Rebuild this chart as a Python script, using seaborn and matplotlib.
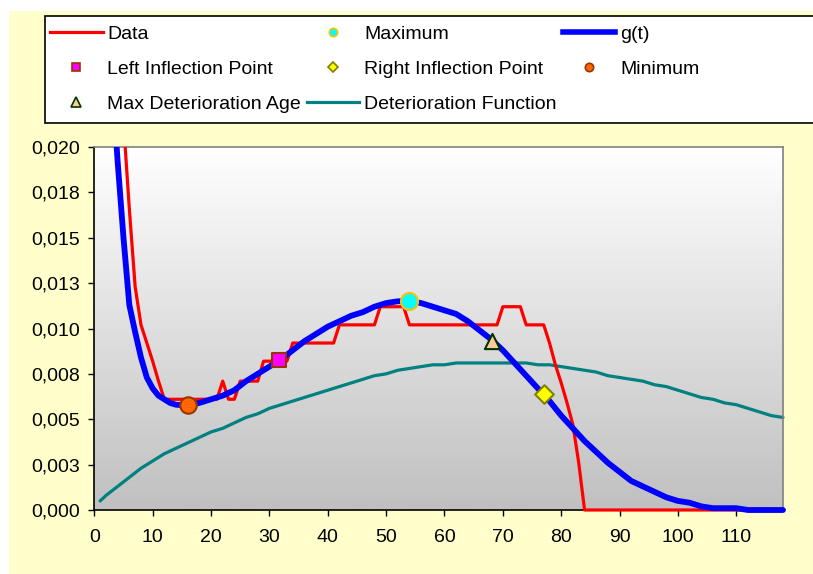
# -*- coding: utf-8 -*-

import numpy as np
import matplotlib.pyplot as plt
from matplotlib.patches import Rectangle
from matplotlib.lines import Line2D
from matplotlib.colors import LinearSegmentedColormap
import seaborn as sns

# observed data (red), ages 3..84, then zero up to 118
data_age = list(range(3, 85)) + [118]
data_val = [0.0330, 0.0265, 0.0214, 0.0166, 0.0123, 0.0102, 0.0092, 0.0082, 0.0071, 0.0061,
            0.0061, 0.0061, 0.0061, 0.0061, 0.0061, 0.0061, 0.0061, 0.0061, 0.0061,
            0.0071, 0.0061, 0.0061,
            0.0071, 0.0071, 0.0071, 0.0071,
            0.0082, 0.0082, 0.0082, 0.0082, 0.0082,
            0.0092, 0.0092, 0.0092, 0.0092, 0.0092, 0.0092, 0.0092, 0.0092,
            0.0102, 0.0102, 0.0102, 0.0102, 0.0102, 0.0102, 0.0102,
            0.0112, 0.0112, 0.0112, 0.0112, 0.0112,
            0.0102, 0.0102, 0.0102, 0.0102, 0.0102, 0.0102, 0.0102, 0.0102,
            0.0102, 0.0102, 0.0102, 0.0102, 0.0102, 0.0102, 0.0102, 0.0102,
            0.0112, 0.0112, 0.0112, 0.0112,
            0.0102, 0.0102, 0.0102, 0.0102,
            0.0092, 0.0080, 0.0070, 0.0059, 0.0047, 0.0026, 0.0000,
            0.0000]

# fitted curve g(t) (blue)
g_age = [3, 4, 5, 6, 7, 8, 9, 10, 11, 12, 13, 14, 16, 18, 20, 22, 24, 26, 28, 30,
         32, 34, 36, 38, 40, 42, 44, 46, 48, 50, 52, 54, 56, 58, 60, 62, 64, 66, 68, 70,
         72, 74, 76, 78, 80, 82, 84, 86, 88, 90, 92, 94, 96, 98, 100, 102, 104, 106, 108, 110,
         112, 114, 116, 118]
g_val = [0.0240, 0.0192, 0.0150, 0.0113, 0.0098, 0.0084, 0.0073, 0.0067, 0.0063, 0.0061,
         0.0059, 0.0058, 0.00576, 0.0059, 0.0061, 0.0063, 0.0066, 0.0071, 0.0075, 0.0079,
         0.0083, 0.0088, 0.0093, 0.0097, 0.0101, 0.0104, 0.0107, 0.0109, 0.0112, 0.0114,
         0.0115, 0.0115, 0.0114, 0.0112, 0.0110, 0.0108, 0.0104, 0.0099, 0.0094, 0.0088,
         0.0081, 0.0074, 0.0067, 0.0060, 0.0052, 0.0045, 0.0038, 0.0032, 0.0026, 0.0021,
         0.0016, 0.0013, 0.0010, 0.0007, 0.0005, 0.0004, 0.0002, 0.0001, 0.0001, 0.0001,
         0.0000, 0.0000, 0.0000, 0.0000]

# deterioration function (teal)
det_age = [1, 2, 4, 6, 8, 10, 12, 14, 16, 18, 20, 22, 24, 26, 28, 30, 32, 34, 36, 38,
           40, 42, 44, 46, 48, 50, 52, 54, 56, 58, 60, 62, 64, 66, 68, 70, 72, 74, 76, 78,
           80, 82, 84, 86, 88, 90, 92, 94, 96, 98, 100, 102, 104, 106, 108, 110, 112, 114, 116, 118]
det_val = [0.0005, 0.0008, 0.0013, 0.0018, 0.0023, 0.0027, 0.0031, 0.0034, 0.0037, 0.0040,
           0.0043, 0.0045, 0.0048, 0.0051, 0.0053, 0.0056, 0.0058, 0.0060, 0.0062, 0.0064,
           0.0066, 0.0068, 0.0070, 0.0072, 0.0074, 0.0075, 0.0077, 0.0078, 0.0079, 0.0080,
           0.0080, 0.0081, 0.0081, 0.0081, 0.0081, 0.0081, 0.0081, 0.0081, 0.0080, 0.0080,
           0.0079, 0.0078, 0.0077, 0.0076, 0.0074, 0.0073, 0.0072, 0.0071, 0.0069, 0.0068,
           0.0066, 0.0064, 0.0062, 0.0061, 0.0059, 0.0058, 0.0056, 0.0054, 0.0052, 0.0051]

# special points (age, value)
pt_min = (16.0, 0.00576)
pt_left = (31.7, 0.00825)
pt_max = (53.9, 0.01152)
pt_maxdet = (68.1, 0.00930)
pt_right = (77.1, 0.00640)

x_ticks = [0, 10, 20, 30, 40, 50, 60, 70, 80, 90, 100, 110]
y_ticks = [0.0, 0.0025, 0.005, 0.0075, 0.01, 0.0125, 0.015, 0.0175, 0.02]
y_labels = ['0,000', '0,003', '0,005', '0,008', '0,010', '0,013', '0,015', '0,018', '0,020']

plt.rcParams['font.family'] = ['Liberation Sans', 'DejaVu Sans']

W, H = 813, 574
fig = plt.figure(figsize=(W / 100, H / 100), dpi=100)
fig.patch.set_facecolor('white')
fig.patches.append(Rectangle((9 / W, 0), 1, (H - 11) / H, transform=fig.transFigure,
                             facecolor='#FFFFCC', edgecolor='none', zorder=-10))
fig.patches.append(Rectangle((45 / W, 1 - 123 / H), 800 / W, 107 / H, transform=fig.transFigure,
                             facecolor='white', edgecolor='black', lw=1.2, zorder=-5))

ax = fig.add_axes([94.3 / W, 1 - 510 / H, (783 - 94.3) / W, (510 - 147) / H])
ax.set_facecolor('none')

grad = LinearSegmentedColormap.from_list('plotbg', ['#FFFFFF', '#C0C0C0'])
ax.imshow(np.linspace(0, 1, 256).reshape(-1, 1), cmap=grad, extent=[0, 1, 0, 1],
          transform=ax.transAxes, aspect='auto', zorder=0)

clip = Rectangle((0, -0.03), 1.005, 1.03, transform=ax.transAxes, facecolor='none', edgecolor='none')
ax.add_patch(clip)

sns.lineplot(x=det_age, y=det_val, ax=ax, color='#008080', linewidth=2.3, estimator=None, sort=False)
ax.lines[-1].set_zorder(2)
sns.lineplot(x=data_age, y=data_val, ax=ax, color='#FF0000', linewidth=2.3, estimator=None, sort=False)
ax.lines[-1].set_zorder(3)
sns.lineplot(x=g_age, y=g_val, ax=ax, color='#0000FF', linewidth=4.2, estimator=None, sort=False)
ax.lines[-1].set_zorder(4)
for ln in ax.lines:
    ln.set_clip_path(clip)
    ln.set_solid_joinstyle('round')
    ln.set_solid_capstyle('round')

sns.scatterplot(x=[pt_max[0]], y=[pt_max[1]], ax=ax, marker='o', s=150, color='#00FFFF',
                edgecolor='#FFC000', linewidth=1.5, zorder=6)
sns.scatterplot(x=[pt_left[0]], y=[pt_left[1]], ax=ax, marker='s', s=100, color='#FF00FF',
                edgecolor='#993300', linewidth=1.5, zorder=6)
sns.scatterplot(x=[pt_right[0]], y=[pt_right[1]], ax=ax, marker='D', s=90, color='#FFFF00',
                edgecolor='#808000', linewidth=1.5, zorder=6)
sns.scatterplot(x=[pt_min[0]], y=[pt_min[1]], ax=ax, marker='o', s=140, color='#FF6600',
                edgecolor='#993300', linewidth=1.5, zorder=6)
sns.scatterplot(x=[pt_maxdet[0]], y=[pt_maxdet[1]], ax=ax, marker='^', s=120, color='#FFCC99',
                edgecolor='#003300', linewidth=1.5, zorder=6)

ax.set_xlim(0, 118)
ax.set_ylim(0, 0.02)
ax.set_xticks(x_ticks)
ax.set_xticklabels([str(v) for v in x_ticks])
ax.set_yticks(y_ticks)
ax.set_yticklabels(y_labels)
ax.set_xlabel('')
ax.set_ylabel('')
ax.tick_params(axis='both', direction='out', length=4, width=1, color='black', labelsize=14)
ax.tick_params(axis='x', pad=10)
ax.tick_params(axis='y', pad=6)
for side in ['left', 'bottom']:
    ax.spines[side].set_color('black')
    ax.spines[side].set_linewidth(1.2)
for side in ['top', 'right']:
    ax.spines[side].set_color('#808080')
    ax.spines[side].set_linewidth(1.2)

handles = [
    Line2D([], [], color='#FF0000', lw=2.3),
    Line2D([], [], ls='none', marker='s', ms=6, mfc='#FF00FF', mec='#993300', mew=1.2),
    Line2D([], [], ls='none', marker='^', ms=7, mfc='#FFCC99', mec='#003300', mew=1.2),
    Line2D([], [], ls='none', marker='o', ms=6, mfc='#00FFFF', mec='#FFC000', mew=1.2),
    Line2D([], [], ls='none', marker='D', ms=5.5, mfc='#FFFF00', mec='#808000', mew=1.2),
    Line2D([], [], color='#008080', lw=2.3),
    Line2D([], [], color='#0000FF', lw=4.0),
    Line2D([], [], ls='none', marker='o', ms=6, mfc='#FF6600', mec='#993300', mew=1.2),
]
labels = ['Data', 'Left Inflection Point', 'Max Deterioration Age',
          'Maximum', 'Right Inflection Point', 'Deterioration Function',
          'g(t)', 'Minimum']
fig.legend(handles, labels, ncol=3, loc='upper left', bbox_to_anchor=(50 / W, 1 - 25 / H),
           frameon=False, fontsize=14, handlelength=2.7, handletextpad=0.25,
           columnspacing=0.3, labelspacing=0.9, borderpad=0, borderaxespad=0)

plt.savefig('out.png', dpi=100)
